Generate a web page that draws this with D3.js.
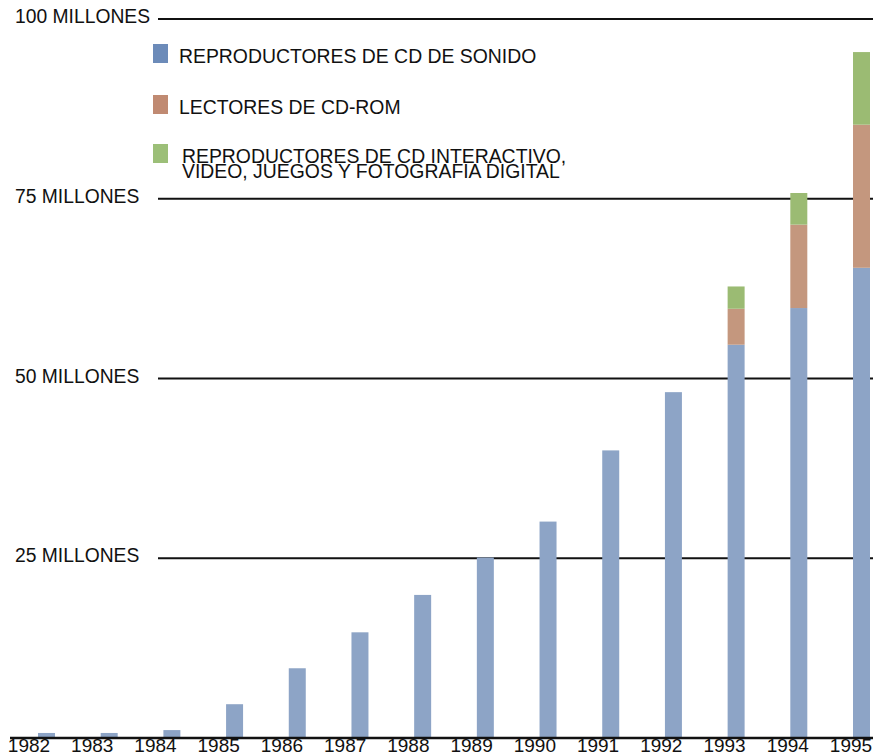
<!DOCTYPE html>
<html>
<head>
<meta charset="utf-8">
<script src="https://cdn.jsdelivr.net/npm/d3@7"></script>
<style>
  body { margin: 0; background: #fff; }
  svg { display: block; font-family: "Liberation Sans", Arial, Helvetica, sans-serif; }
</style>
</head>
<body>
<div id="chart"></div>
<script>
// Data (millions of units)
const years = ["1982","1983","1984","1985","1986","1987","1988","1989","1990","1991","1992","1993","1994","1995"];
const audioCD = [0.7, 0.7, 1.1, 4.7, 9.7, 14.7, 19.9, 25.1, 30.1, 40.0, 48.1, 54.7, 59.8, 65.4];
const cdRom   = [0, 0, 0, 0, 0, 0, 0, 0, 0, 0, 0, 5.0, 11.6, 19.9];
const interactive = [0, 0, 0, 0, 0, 0, 0, 0, 0, 0, 0, 3.1, 4.4, 10.1];
const seriesKeys = ["audio", "rom", "inter"];
const legendLabels = [
    ["REPRODUCTORES DE CD DE SONIDO"],
    ["LECTORES DE CD-ROM"],
    ["REPRODUCTORES DE CD INTERACTIVO,", "VIDEO, JUEGOS Y FOTOGRAFIA DIGITAL"]
];
const tickValues = [25, 50, 75, 100];
const tickLabels = ["25 MILLONES", "50 MILLONES", "75 MILLONES", "100 MILLONES"];

const barColors = { audio: "#8da4c6", rom: "#c4977e", inter: "#9bbb73" };
const legendColors = ["#6c8bb9", "#c08a72", "#9cbf78"];

const W = 873, H = 754;
const svg = d3.select("#chart").append("svg")
    .attr("width", W)
    .attr("height", H);

// Scales
const y = d3.scaleLinear().domain([0, 100]).range([738, 19]);
const x = d3.scaleBand().domain(years).range([38, 870]).paddingInner(0.729).paddingOuter(0);
const xLab = d3.scalePoint().domain(years).range([29, 851]);

// Gridlines + labels
const grid = svg.append("g");
tickValues.forEach((v, i) => {
    grid.append("line")
        .attr("x1", 158).attr("x2", W)
        .attr("y1", y(v)).attr("y2", y(v))
        .attr("stroke", "#111")
        .attr("stroke-width", 2);
    grid.append("text")
        .attr("x", 15)
        .attr("y", y(v) + 4)
        .attr("font-size", "19.3px")
        .attr("fill", "#111")
        .text(tickLabels[i]);
});

// Stack data
const table = years.map((yr, i) => ({ year: yr, audio: audioCD[i], rom: cdRom[i], inter: interactive[i] }));
const stacked = d3.stack().keys(seriesKeys)(table);

svg.append("g").selectAll("g")
    .data(stacked)
    .join("g")
    .attr("fill", d => barColors[d.key])
    .selectAll("rect")
    .data(d => d.filter(s => s[1] - s[0] > 0))
    .join("rect")
    .attr("x", d => x(d.data.year))
    .attr("width", x.bandwidth())
    .attr("y", d => y(d[1]))
    .attr("height", d => y(d[0]) - y(d[1]));

// Baseline
svg.append("line")
    .attr("x1", 10).attr("x2", W)
    .attr("y1", y(0)).attr("y2", y(0))
    .attr("stroke", "#111")
    .attr("stroke-width", 2.5);

// Year labels (cut at the bottom edge, as in the original)
svg.append("g").selectAll("text")
    .data(years)
    .join("text")
    .attr("x", d => xLab(d))
    .attr("y", 752)
    .attr("text-anchor", "middle")
    .attr("font-size", "19px")
    .attr("fill", "#111")
    .text(d => d);

// Legend
const legendY = [44, 95, 144];
const legend = svg.append("g");
legendLabels.forEach((lines, i) => {
    legend.append("rect")
        .attr("x", 153).attr("y", legendY[i])
        .attr("width", 15).attr("height", 19)
        .attr("fill", legendColors[i]);
    const tx = i === 2 ? 182 : 179;
    const t = legend.append("text")
        .attr("x", tx)
        .attr("y", legendY[i] + 19)
        .attr("font-size", "19.4px")
        .attr("fill", "#111");
    lines.forEach((ln, j) => {
        t.append("tspan")
            .attr("x", tx)
            .attr("dy", j === 0 ? 0 : 15)
            .text(ln);
    });
});
</script>
</body>
</html>
